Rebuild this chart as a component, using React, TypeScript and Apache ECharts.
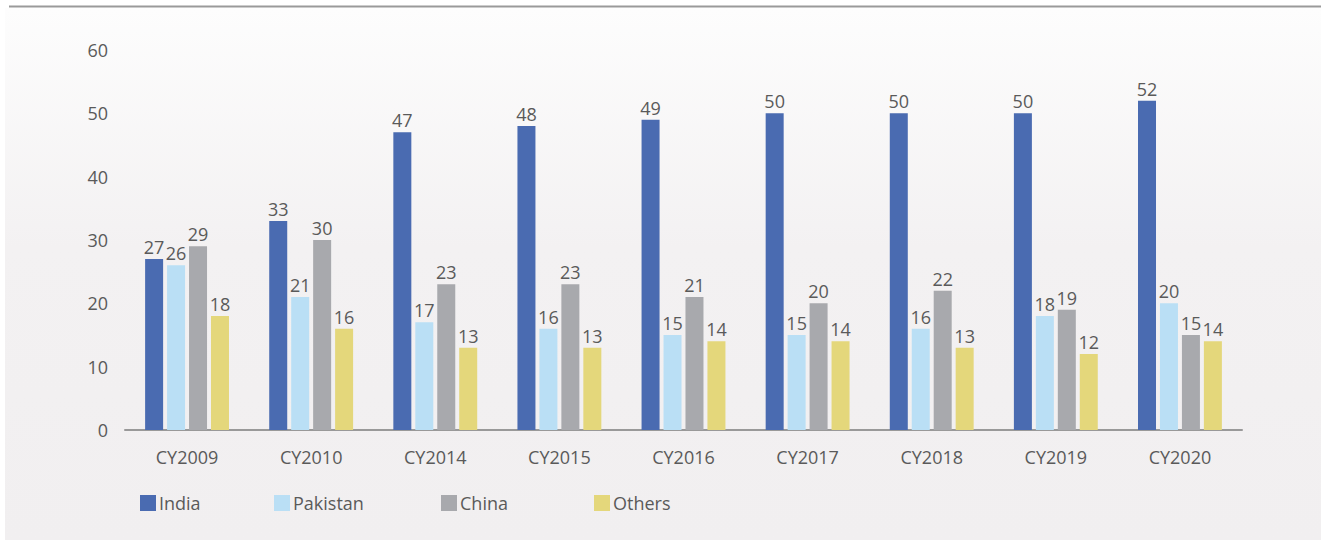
import React, { useEffect, useRef } from "react";
import * as echarts from "echarts";

const categories = ["CY2009", "CY2010", "CY2014", "CY2015", "CY2016", "CY2017", "CY2018", "CY2019", "CY2020"];
const india = [27, 33, 47, 48, 49, 50, 50, 50, 52];
const pakistan = [26, 21, 17, 16, 15, 15, 16, 18, 20];
const china = [29, 30, 23, 23, 21, 20, 22, 19, 15];
const others = [18, 16, 13, 13, 14, 14, 13, 12, 14];
const seriesNames = ["India", "Pakistan", "China", "Others"];
const seriesColors = ["#4A6BB1", "#BADFF5", "#A8A9AD", "#E4D77B"];
const legendLefts = [140, 274, 441, 594];

const FONT = "'Open Sans', sans-serif";
const TEXT = "#5a5a5a";

export default function App() {
  const ref = useRef<HTMLDivElement>(null);
  useEffect(() => {
    if (!ref.current) return;
    const chart = echarts.init(ref.current, undefined, { renderer: "svg" });
    const data = [india, pakistan, china, others];
    chart.setOption({
      animation: false,
      backgroundColor: "#ffffff",
      textStyle: { fontFamily: FONT },
      graphic: [
        {
          type: "rect",
          z: -10,
          silent: true,
          shape: { x: 5, y: 8, width: 1316, height: 532 },
          style: {
            fill: new echarts.graphic.LinearGradient(0, 0, 0, 1, [
              { offset: 0, color: "#fdfdfd" },
              { offset: 0.45, color: "#f3f1f2" },
              { offset: 1, color: "#f1eff0" },
            ]),
          },
        },
        {
          type: "line",
          z: -5,
          silent: true,
          shape: { x1: 9, y1: 6.5, x2: 1321, y2: 6.5 },
          style: { stroke: "#9a9a9a", lineWidth: 2 },
        },
      ],
      legend: seriesNames.map((n, i) => ({
        data: [n],
        left: legendLefts[i] - 5,
        top: 489,
        itemWidth: 16,
        itemHeight: 16,
        itemGap: 0,
        icon: "rect",
        textStyle: { fontFamily: FONT, fontSize: 18, color: TEXT, padding: [0, 0, 0, -2] },
      })),
      grid: { left: 125, right: 79, top: 50, bottom: 110 },
      xAxis: {
        type: "category",
        data: categories,
        axisLine: { lineStyle: { color: "#999999", width: 2 } },
        axisTick: { show: false },
        axisLabel: { fontFamily: FONT, fontSize: 18, color: TEXT, margin: 18 },
      },
      yAxis: {
        type: "value",
        min: 0,
        max: 60,
        interval: 10,
        splitLine: { show: false },
        axisLine: { show: false },
        axisTick: { show: false },
        axisLabel: { fontFamily: FONT, fontSize: 18, color: TEXT, margin: 17 },
      },
      series: seriesNames.map((n, i) => ({
        name: n,
        type: "bar",
        data: data[i],
        barWidth: 18,
        barGap: "22%",
        itemStyle: { color: seriesColors[i] },
        label: {
          show: true,
          position: "top",
          distance: 3,
          fontFamily: FONT,
          fontSize: 18,
          color: TEXT,
        },
      })),
    });
    return () => chart.dispose();
  }, []);
  return (
    <div style={{ position: "fixed", left: 0, top: 0, width: 1321, height: 540 }}>
      <div ref={ref} style={{ width: 1321, height: 540 }} />
    </div>
  );
}
